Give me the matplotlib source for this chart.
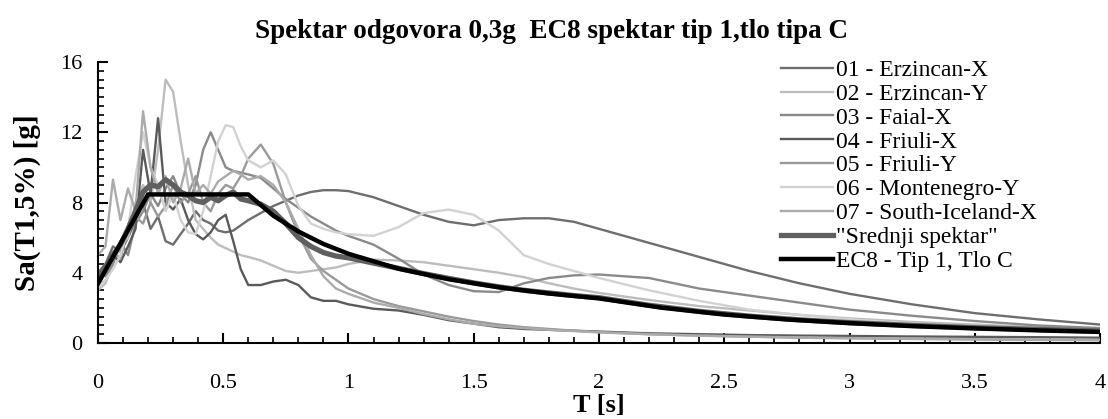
import matplotlib
matplotlib.use("Agg")
import matplotlib.pyplot as plt
from matplotlib.ticker import MultipleLocator

plt.rcParams['font.family'] = ['Liberation Serif', 'DejaVu Serif']

# period grid shared by the record spectra
T = [0.00, 0.03, 0.06, 0.09, 0.12, 0.15, 0.18, 0.21, 0.24, 0.27, 0.30, 0.33, 0.36, 0.39,
     0.42, 0.45, 0.48, 0.51, 0.54, 0.57, 0.60, 0.65, 0.70, 0.75, 0.80, 0.85, 0.90, 0.95,
     1.0, 1.1, 1.2, 1.3, 1.4, 1.5, 1.6, 1.7, 1.8, 1.9, 2.0, 2.2, 2.4, 2.6, 2.8, 3.0,
     3.25, 3.5, 3.75, 4.0]

erzincan_x = [4.0, 4.5, 5.5, 5.2, 6.0, 7.0, 8.0, 6.5, 7.2, 5.8, 5.6, 6.2, 6.8, 7.5,
              7.0, 6.8, 6.4, 6.3, 6.4, 6.7, 7.0, 7.4, 7.8, 8.1, 8.4, 8.6, 8.7, 8.7,
              8.65, 8.3, 7.8, 7.3, 6.9, 6.7, 7.0, 7.1, 7.1, 6.9, 6.5, 5.7, 4.9, 4.1, 3.4, 2.8,
              2.2, 1.7, 1.35, 1.05]
erzincan_y = [3.0, 3.4, 4.5, 5.5, 6.0, 8.0, 9.0, 8.0, 11.0, 15.0, 14.3, 11.5, 9.0, 7.0,
              6.5, 6.0, 5.6, 5.4, 5.2, 5.0, 4.9, 4.7, 4.4, 4.1, 4.0, 4.1, 4.2, 4.3,
              4.5, 4.75, 4.7, 4.6, 4.4, 4.2, 4.0, 3.75, 3.4, 3.1, 2.85, 2.45, 2.1, 1.85, 1.6, 1.4,
              1.2, 1.05, 0.9, 0.8]
faial_x = [4.0, 3.8, 4.5, 5.8, 5.0, 6.8, 7.5, 8.5, 7.8, 8.8, 9.5, 8.5, 8.0, 9.0,
           11.0, 12.0, 11.0, 10.0, 9.8, 9.7, 9.6, 9.4, 8.8, 8.2, 7.7, 7.2, 6.8, 6.4,
           6.1, 5.6, 4.8, 3.9, 3.3, 2.95, 2.9, 3.4, 3.7, 3.85, 3.9, 3.7, 3.1, 2.7, 2.3, 1.9,
           1.55, 1.25, 1.0, 0.85]
friuli_x = [3.5, 4.2, 5.0, 4.6, 5.5, 6.5, 11.0, 8.5, 12.8, 8.0, 7.6, 8.2, 7.0, 6.2,
            5.9, 6.3, 7.0, 7.3, 5.8, 4.2, 3.3, 3.3, 3.5, 3.6, 3.3, 2.6, 2.4, 2.4,
            2.2, 1.95, 1.85, 1.6, 1.3, 1.1, 0.9, 0.8, 0.75, 0.7, 0.65, 0.55, 0.5, 0.45, 0.42, 0.4,
            0.37, 0.35, 0.33, 0.3]
friuli_y = [3.3, 4.0, 5.2, 4.8, 6.5, 7.2, 6.8, 8.0, 7.2, 7.8, 9.0, 8.0, 8.5, 9.5,
            8.0, 7.5, 8.5, 9.0, 8.8, 9.5, 10.5, 11.3, 10.2, 8.0, 6.2, 4.8, 4.1, 3.6,
            3.1, 2.5, 2.1, 1.8, 1.5, 1.25, 1.05, 0.9, 0.8, 0.7, 0.62, 0.5, 0.42, 0.36, 0.3, 0.27,
            0.23, 0.2, 0.18, 0.16]
montenegro_y = [3.2, 3.6, 4.2, 5.0, 6.5, 9.5, 12.0, 10.0, 9.0, 7.5, 8.5, 7.0, 6.3, 6.2,
                7.5, 9.5, 11.5, 12.4, 12.3, 11.2, 10.4, 10.0, 10.4, 9.6, 7.8, 6.8, 6.5, 6.3,
                6.2, 6.1, 6.6, 7.4, 7.6, 7.3, 6.4, 5.0, 4.5, 4.1, 3.7, 3.0, 2.4, 1.9, 1.6, 1.35,
                1.1, 0.95, 0.8, 0.7]
south_iceland_x = [5.0, 5.5, 9.3, 7.0, 8.8, 7.5, 13.2, 10.0, 8.5, 9.5, 8.0, 8.8, 10.5, 8.5,
                   9.0, 8.5, 9.2, 9.5, 9.8, 9.6, 9.3, 9.5, 9.0, 8.0, 6.5, 5.0, 3.8, 3.1,
                   2.8, 2.3, 2.0, 1.65, 1.35, 1.1, 0.95, 0.85, 0.75, 0.68, 0.6, 0.5, 0.42, 0.36, 0.32, 0.28,
                   0.25, 0.22, 0.2, 0.18]
srednji = [3.7, 4.3, 5.0, 5.6, 6.5, 7.5, 8.6, 9.0, 8.9, 9.3, 9.0, 8.6, 8.4, 8.1,
           8.0, 8.3, 8.1, 8.4, 8.6, 8.2, 8.1, 7.9, 7.5, 6.8, 6.0, 5.5, 5.15, 4.95,
           4.85, 4.55, 4.25, 3.95, 3.68, 3.42, 3.2, 3.0, 2.85, 2.7, 2.58, 2.15, 1.8, 1.53, 1.32, 1.16,
           1.0, 0.87, 0.77, 0.68]

# EC8 type 1 design spectrum, ground C
T_ec8 = [0.0, 0.2, 0.6, 0.7, 0.8, 0.9, 1.0, 1.2, 1.4, 1.6, 1.8, 2.0, 2.25, 2.5, 2.75,
         3.0, 3.25, 3.5, 3.75, 4.0]
sa_ec8 = [3.38, 8.46, 8.46, 7.25, 6.35, 5.64, 5.08, 4.23, 3.63, 3.17, 2.82, 2.54, 2.01,
          1.62, 1.34, 1.13, 0.96, 0.83, 0.72, 0.63]

records = [
    ("01 - Erzincan-X", erzincan_x, '#6e6e6e'),
    ("02 - Erzincan-Y", erzincan_y, '#bdbdbd'),
    ("03 - Faial-X", faial_x, '#8a8a8a'),
    ("04 - Friuli-X", friuli_x, '#5a5a5a'),
    ("05 - Friuli-Y", friuli_y, '#9a9a9a'),
    ("06 - Montenegro-Y", montenegro_y, '#d2d2d2'),
    ("07 - South-Iceland-X", south_iceland_x, '#ababab'),
]

fig = plt.figure(figsize=(11.08, 4.19), dpi=100)
ax = fig.add_axes([0.0884, 0.1814, 0.9044, 0.6706])

for name, vals, col in records:
    ax.plot(T, vals, color=col, lw=1.7, label=name)
ax.plot(T, srednji, color='#5f5f5f', lw=3.8, label='"Srednji spektar"')
ax.plot(T_ec8, sa_ec8, color='black', lw=3.2, label='EC8 - Tip 1, Tlo C')

ax.set_xlim(0, 4)
ax.set_ylim(0, 16)
ax.xaxis.set_major_locator(MultipleLocator(0.5))
ax.xaxis.set_minor_locator(MultipleLocator(0.1))
ax.yaxis.set_major_locator(MultipleLocator(4))
ax.yaxis.set_minor_locator(MultipleLocator(0.5))
ax.set_xticks([0, 0.5, 1, 1.5, 2, 2.5, 3, 3.5, 4])
ax.set_xticklabels(['0', '0.5', '1', '1.5', '2', '2.5', '3', '3.5', '4'])
ax.tick_params(which='major', direction='in', length=7, width=1.5, labelsize=16)
ax.tick_params(axis='x', which='major', pad=22)
ax.tick_params(axis='y', which='major', pad=11)
ax.tick_params(which='minor', direction='in', length=4, width=1.2)
ax.spines['top'].set_visible(False)
ax.spines['right'].set_visible(False)
ax.spines['left'].set_linewidth(1.5)
ax.spines['bottom'].set_linewidth(1.5)

ax.set_xlabel('T [s]', fontsize=19, fontweight='bold', labelpad=1)
ax.set_ylabel('Sa(T1,5%) [g]', fontsize=21, fontweight='bold', labelpad=14)
fig.text(0.498, 0.925, 'Spektar odgovora 0,3g  EC8 spektar tip 1,tlo tipa C',
         ha='center', va='center', fontsize=19.5, fontweight='bold')

ax.legend(loc='upper left', bbox_to_anchor=(0.672, 1.043), frameon=False, fontsize=17,
          handlelength=2.2, handletextpad=0.15, labelspacing=0.1, borderaxespad=0)

fig.savefig('out.png', dpi=100)
